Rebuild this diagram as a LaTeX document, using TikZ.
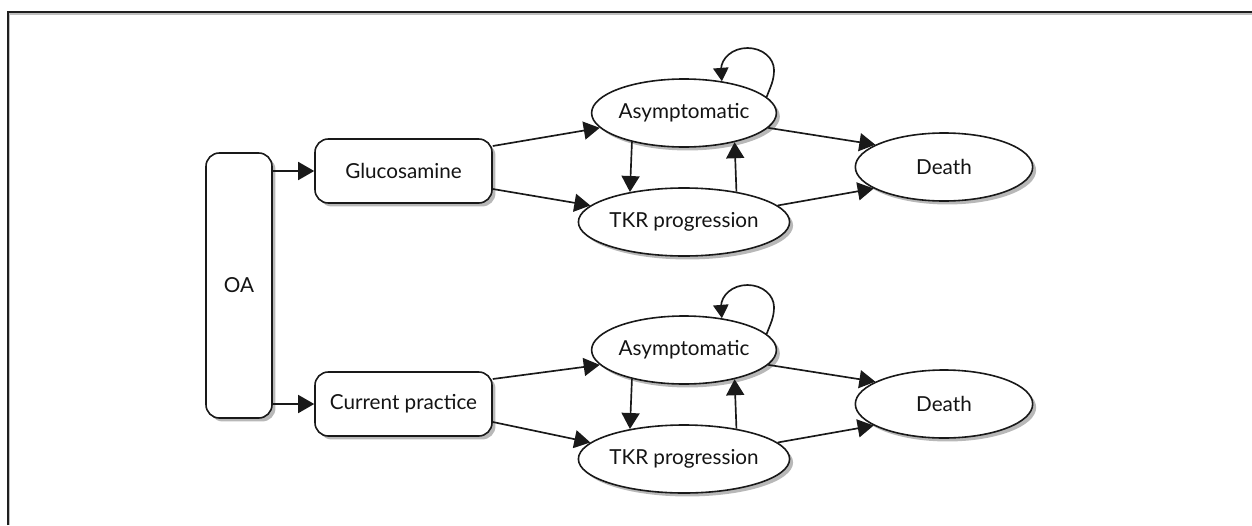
\documentclass[tikz,border=0pt]{standalone}
\usepackage{fontspec}
\setmainfont{Lato}
\usetikzlibrary{shapes.geometric,arrows.meta,shadows,calc}
\begin{document}
\begin{tikzpicture}[x=0.75pt,y=0.75pt,
  every node/.style={font=\fontsize{15.5}{18}\selectfont, text=black!92},
  sh/.style={drop shadow={shadow xshift=2.6pt,shadow yshift=-2.6pt,fill=black!28,opacity=1}},
  boxn/.style={draw=black!90,line width=1.2pt,fill=white,rounded corners=10pt,minimum width=132.75pt,minimum height=48pt,inner sep=0pt,sh},
  ell/.style={ellipse,draw=black!90,line width=1.2pt,fill=white,minimum width=133pt,minimum height=51pt,inner sep=0pt,sh},
  arr/.style={draw=black!90,line width=1.25pt,-{Triangle[length=12pt,width=13.5pt]}},
  loopline/.style={draw=black!90,line width=1.25pt,-{Triangle[length=10pt,width=11.5pt]}}]
\useasboundingbox (0,0) rectangle (1252,-525);
% frame
\draw[black!25,line width=1pt] (9.3,-525) -- (9.3,-14) -- (1252,-14);
\draw[black!88,line width=1.5pt] (7.5,-525) -- (7.5,-12.3) -- (1252,-12.3);
% nodes
\node[boxn,minimum width=49.5pt,minimum height=198.75pt] (oa) at (239,-285.5) {OA};
\node[boxn] (g) at (403.5,-171) {Glucosamine};
\node[boxn] (c) at (403.5,-404) {Current practice};
\node[ell] (a1) at (684,-113) {Asymptomatic};
\node[ell] (t1) at (684,-222) {TKR progression};
\node[ell] (d1) at (944,-167) {Death};
\node[ell] (a2) at (684,-350) {Asymptomatic};
\node[ell] (t2) at (684,-459) {TKR progression};
\node[ell] (d2) at (944,-404) {Death};
% connectors
\draw[arr] (oa.east |- g.west) -- (g.west);
\draw[arr] (oa.east |- c.west) -- (c.west);
\foreach \b/\a/\t/\d in {g/a1/t1/d1, c/a2/t2/d2}{
  \draw[arr] ($(\b.east)+(0,25)$) -- (\a.190);
  \draw[arr] ($(\b.east)+(0,-18)$) -- (\t.170);
  \draw[arr] (\a.350) -- (\d.162);
  \draw[arr] (\t.10) -- (\d.197);
  \draw[arr] (\a.209) -- (\t.151);
  \draw[arr] (\t.30) -- (\a.330);
}
\coordinate (l1) at (774,-70);
\coordinate (l2) at (774,-307);
\draw[loopline] (a1.11) to[out=70,in=-90] (l1) arc[start angle=0,end angle=180,x radius=26.5,y radius=22] -- (a1.40);
\draw[loopline] (a2.11) to[out=70,in=-90] (l2) arc[start angle=0,end angle=180,x radius=26.5,y radius=22] -- (a2.40);
\end{tikzpicture}
\end{document}
